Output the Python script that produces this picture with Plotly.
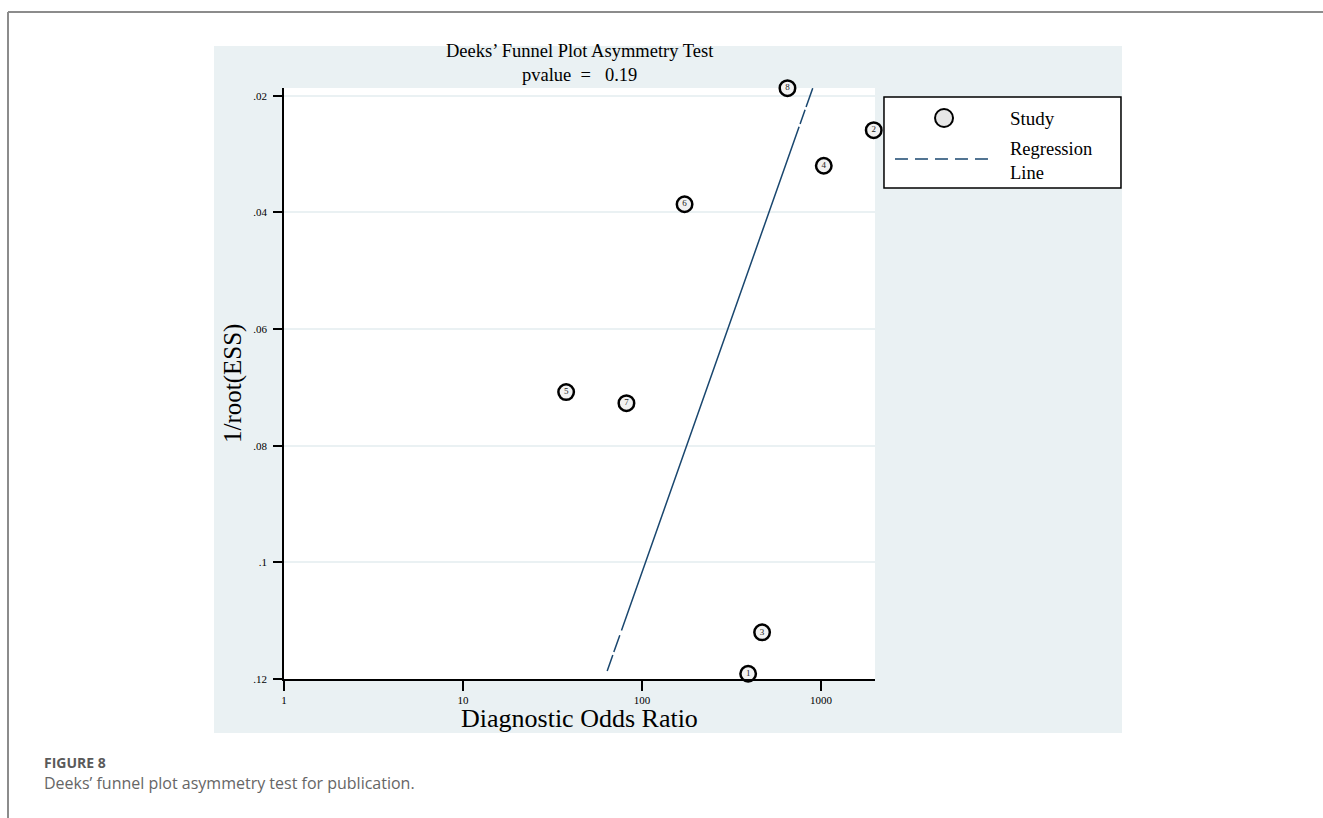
import plotly.graph_objects as go

# Study-level results
study_ids = ["1", "2", "3", "4", "5", "6", "7", "8"]
diag_odds_ratio = [392, 1972, 469, 1037, 37.7, 173, 81.9, 650]
inv_root_ess = [0.1191, 0.0259, 0.1120, 0.0320, 0.0708, 0.0386, 0.0727, 0.0187]

# Deeks regression: log10(DOR) = intercept + slope * 1/root(ESS)
reg_intercept = 3.169
reg_slope = -11.493
p_value = 0.19

# Axis ticks
x_tick_vals = [1, 10, 100, 1000]
x_tick_text = ["1", "10", "100", "1000"]
y_tick_vals = [0.02, 0.04, 0.06, 0.08, 0.10, 0.12]
y_tick_text = [".02", ".04", ".06", ".08", ".1", ".12"]

SERIF = "Liberation Serif, Times New Roman, serif"
NAVY = "#1A476F"
BG = "#EAF1F3"

# Fitted regression line evaluated at each study's precision
fit_y = sorted(inv_root_ess)
fit_x = [10 ** (reg_intercept + reg_slope * v) for v in fit_y]

fig = go.Figure()

fig.add_trace(go.Scatter(
    x=fit_x, y=fit_y, mode="lines",
    line=dict(color=NAVY, width=1.5,
              dash="20px,3px,15px,3px,534px,5px,18px,3px,17px"),
    hoverinfo="skip", showlegend=False,
))

fig.add_trace(go.Scatter(
    x=diag_odds_ratio, y=inv_root_ess, mode="markers+text",
    text=study_ids, textposition="middle center",
    textfont=dict(family=SERIF, size=9, color="#222222"),
    marker=dict(symbol="circle", size=15.5, color="#F2F2F2",
                line=dict(color="black", width=2.5)),
    cliponaxis=False, showlegend=False, name="Study",
))

# Shapes: graph region, plot region, page frame, legend box
shapes = [
    dict(type="rect", xref="paper", yref="paper", x0=-0.1184, x1=1.418,
         y0=-0.0914, y1=1.071, fillcolor=BG, line=dict(width=0), layer="below"),
    dict(type="rect", xref="paper", yref="paper", x0=0, x1=1, y0=0, y1=1,
         fillcolor="white", line=dict(width=0), layer="below"),
    dict(type="line", xref="paper", yref="paper", x0=-0.467, x1=1.76,
         y0=1.1286, y1=1.1286, line=dict(color="#8C8C8C", width=2)),
    dict(type="line", xref="paper", yref="paper", x0=-0.467, x1=-0.467,
         y0=1.1286, y1=-0.25, line=dict(color="#8C8C8C", width=2)),
    dict(type="rect", xref="paper", yref="paper", x0=1.0152, x1=1.4162,
         y0=0.8308, y1=0.9848, fillcolor="white",
         line=dict(color="black", width=1.5)),
    dict(type="circle", xref="paper", yref="paper",
         xsizemode="pixel", ysizemode="pixel", xanchor=1.1168, yanchor=0.9492,
         x0=-9, x1=9, y0=-9, y1=9, fillcolor="#E6E6E6",
         line=dict(color="black", width=2)),
    dict(type="line", xref="paper", yref="paper", x0=1.0338, x1=1.1997,
         y0=0.8799, y1=0.8799, line=dict(color=NAVY, width=1.5, dash="13px,7px")),
]

def note(text, x, y, size, xanchor="center", yanchor="middle", color="black",
         family=SERIF, angle=0, align="center"):
    return dict(text=text, x=x, y=y, xref="paper", yref="paper",
                xanchor=xanchor, yanchor=yanchor, showarrow=False, align=align,
                textangle=angle, font=dict(family=family, size=size, color=color))

annotations = [
    note("Deeks\u2019 Funnel Plot Asymmetry Test<br>"
         f"pvalue \u00a0=\u00a0\u00a0 {p_value:.2f}",
         0.5, 1.0431, 18.5),
    note("1/root(ESS)", -0.0863, 0.5008, 25, angle=-90),
    note("Diagnostic Odds Ratio", 0.5, -0.066, 26),
    note("Study", 1.2250, 0.9492, 19, xanchor="left"),
    note("Regression<br>Line", 1.2250, 0.8765, 18.5, xanchor="left", align="left"),
    note("<b>FIGURE 8</b>", -0.4095, -0.1421, 14, xanchor="left",
         color="#5A5A5A", family="Open Sans, sans-serif"),
    note("Deeks\u2019 funnel plot asymmetry test for publication.", -0.4095,
         -0.1760, 16, xanchor="left", color="#666666",
         family="Open Sans, sans-serif"),
]

fig.update_layout(
    width=1323, height=818,
    margin=dict(l=284, r=448, t=88, b=139, autoexpand=False),
    paper_bgcolor="white", plot_bgcolor="rgba(0,0,0,0)",
    shapes=shapes, annotations=annotations, showlegend=False,
    font=dict(family=SERIF, color="black"),
)

fig.update_xaxes(
    type="log", range=[0, 3.302], tickvals=x_tick_vals, ticktext=x_tick_text,
    ticks="outside", ticklen=10, tickwidth=1.5, tickcolor="black",
    showline=True, linecolor="black", linewidth=1.5,
    showgrid=False, zeroline=False, tickfont=dict(family=SERIF, size=11),
)
fig.update_yaxes(
    range=[0.12, 0.01867], tickvals=y_tick_vals, ticktext=y_tick_text,
    ticks="outside", ticklen=9, tickwidth=1.5, tickcolor="black",
    showline=True, linecolor="black", linewidth=1.5,
    showgrid=True, gridcolor=BG, gridwidth=2, zeroline=False,
    tickfont=dict(family=SERIF, size=11), ticklabelstandoff=4,
)

fig.write_html("out.html")
